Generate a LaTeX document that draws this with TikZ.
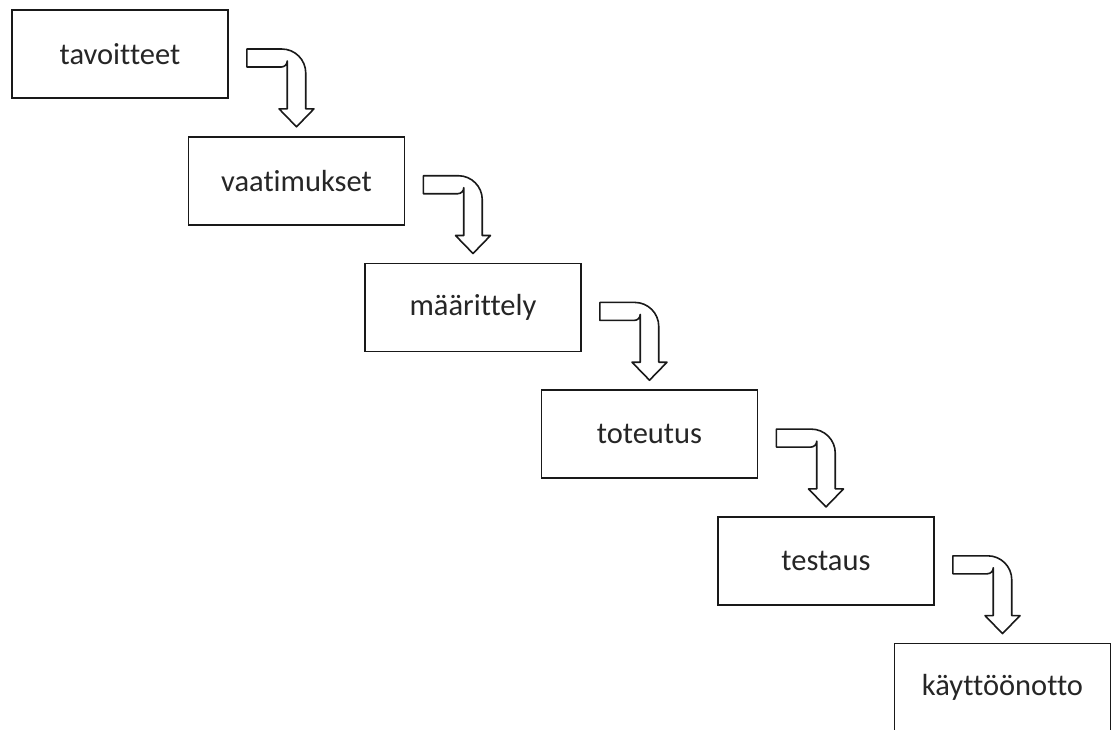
\documentclass[tikz,border=0pt]{standalone}
\usepackage{fontspec}
\setmainfont{Carlito}[Ligatures=NoCommon]
\usetikzlibrary{calc}
\tikzset{
  stage/.style={draw=black!90, line width=1.8pt, minimum width=216pt, minimum height=88pt,
    inner sep=0pt, font=\fontsize{30.5}{36}\selectfont, text=black!85},
  bentarrow/.style={draw=black!90, line width=1.6pt, fill=white, line join=round}
}
\newcommand{\bentarrow}[2]{%
  \path[bentarrow] let \p1=(#1.east), \p2=(#2.north) in
    (\x1+18pt,\y1+5pt) -- (\x2+9.25pt-24pt,\y1+5pt)
    arc[start angle=90,end angle=0,radius=24pt]
    -- (\x2+9.25pt,\y2+27pt) -- (\x2+17.5pt,\y2+27pt)
    -- (\x2,\y2+9pt) -- (\x2-17.5pt,\y2+27pt) -- (\x2-9.25pt,\y2+27pt)
    -- (\x2-9.25pt,\y1-13pt+6pt)
    arc[start angle=0,end angle=-90,radius=6pt]
    -- (\x1+18pt,\y1-13pt) -- cycle;}
\begin{document}
\begin{tikzpicture}[x=1pt,y=-1pt]
\useasboundingbox (0,0) rectangle (1113,729);
\clip (0,0) rectangle (1113,729);
\fill[white] (0,0) rectangle (1113,729);
\node[stage] (s1) at (120,54) {tavoitteet};
\node[stage] (s2) at (296.5,180.7) {vaatimukset};
\node[stage] (s3) at (473,307.4) {määrittely};
\node[stage] (s4) at (649.5,434.1) {toteutus};
\node[stage] (s5) at (826,560.8) {testaus};
\node[stage] (s6) at (1002.5,687.5) {käyttöönotto};
\bentarrow{s1}{s2}
\bentarrow{s2}{s3}
\bentarrow{s3}{s4}
\bentarrow{s4}{s5}
\bentarrow{s5}{s6}
\end{tikzpicture}
\end{document}
